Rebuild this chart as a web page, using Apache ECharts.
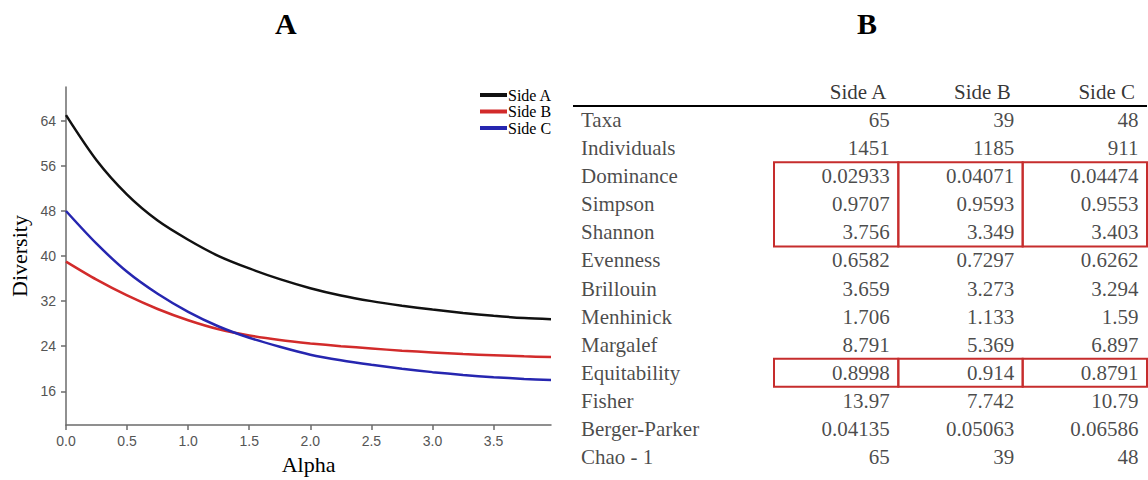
<!DOCTYPE html>
<html>
<head>
<meta charset="utf-8">
<script src="https://cdn.jsdelivr.net/npm/echarts@6/dist/echarts.min.js"></script>
<style>html,body{margin:0;padding:0;background:#fff;}#c{width:1148px;height:480px;}</style>
</head>
<body>
<div id="c"></div>
<script>
// ---- Panel A: diversity profile ----
const alpha = [0, 0.25, 0.5, 0.75, 1, 1.25, 1.5, 1.75, 2, 2.25, 2.5, 2.75, 3, 3.25, 3.5, 3.75, 3.97];
const sideA = [65, 57.0, 50.9, 46.3, 42.9, 40.0, 37.8, 35.9, 34.3, 33.0, 32.0, 31.2, 30.5, 29.9, 29.4, 29.0, 28.8];
const sideB = [39, 35.8, 33.0, 30.6, 28.6, 27.0, 25.9, 25.1, 24.5, 24.0, 23.6, 23.2, 22.9, 22.6, 22.4, 22.2, 22.1];
const sideC = [48, 42.2, 37.2, 33.3, 30.1, 27.5, 25.5, 23.9, 22.5, 21.5, 20.7, 20.0, 19.4, 18.9, 18.5, 18.2, 18.0];
const yTicks = [16, 24, 32, 40, 48, 56, 64];
const xTicks = [0, 0.5, 1, 1.5, 2, 2.5, 3, 3.5];
const seriesNames = ['Side A', 'Side B', 'Side C'];

// ---- Panel B: table ----
const metrics = ['Taxa', 'Individuals', 'Dominance', 'Simpson', 'Shannon', 'Evenness', 'Brillouin', 'Menhinick', 'Margalef', 'Equitability', 'Fisher', 'Berger-Parker', 'Chao - 1'];
const sides = ['Side A', 'Side B', 'Side C'];
const valA = ['65', '1451', '0.02933', '0.9707', '3.756', '0.6582', '3.659', '1.706', '8.791', '0.8998', '13.97', '0.04135', '65'];
const valB = ['39', '1185', '0.04071', '0.9593', '3.349', '0.7297', '3.273', '1.133', '5.369', '0.914', '7.742', '0.05063', '39'];
const valC = ['48', '911', '0.04474', '0.9553', '3.403', '0.6262', '3.294', '1.59', '6.897', '0.8791', '10.79', '0.06586', '48'];
const boxedRanges = [['Dominance', 'Shannon'], ['Equitability', 'Equitability']];

const SERIF = '"Liberation Serif", "Times New Roman", serif';
const SANS = '"Liberation Sans", Arial, sans-serif';
const colors = ['#111111', '#d22b2b', '#2626b0'];

// table layout
const CHART_W = 1148;
const LABEL_LEFT = 573, VALUE_LEFT = 774, TABLE_RIGHT = 1;
const LABEL_COL_W = VALUE_LEFT - LABEL_LEFT;
const VALUE_COL_W = (CHART_W - VALUE_LEFT - TABLE_RIGHT) / sides.length;

const rowNames = ['header'].concat(metrics);
const columns = [valA, valB, valC];

const headerCells = sides.map((s, ci) => ({ value: [ci, 0], text: s }));
const valueCells = [];
columns.forEach((vals, ci) => vals.forEach((v, ri) => valueCells.push({ value: [ci, ri + 1], text: String(v) })));
const labelCells = metrics.map((m, ri) => ({ value: [0, ri + 1], text: m }));
const boxes = [];
for (let ci = 0; ci < sides.length; ci++) {
  boxedRanges.forEach(r => boxes.push({ col: ci, r0: rowNames.indexOf(r[0]), r1: rowNames.indexOf(r[1]) }));
}

const chart = echarts.init(document.getElementById('c'), null, { renderer: 'svg' });

function ruleRender(params, api) {
  const cs = params.coordSys;
  const y = api.coord([0, 0])[1] + api.size([1, 1])[1] / 2;
  return { type: 'line', shape: { x1: cs.x, y1: y, x2: cs.x + cs.width, y2: y }, style: { stroke: '#000', lineWidth: 2 } };
}

function textSeries(gridIdx, items, align, dx, color) {
  return {
    type: 'scatter', xAxisIndex: gridIdx, yAxisIndex: gridIdx, silent: true,
    symbolSize: 1, itemStyle: { color: 'rgba(255,255,255,0)' }, emphasis: { disabled: true },
    data: items.map(c => c.value),
    label: {
      show: true, position: 'inside', align: align, verticalAlign: 'middle', offset: [dx, 0],
      fontFamily: SERIF, fontSize: 21, color: color,
      formatter: p => items[p.dataIndex].text
    }
  };
}

const option = {
  animation: false,
  backgroundColor: '#fff',
  title: [
    { text: 'A', left: 275, top: 8, padding: 0, textStyle: { fontFamily: SERIF, fontWeight: 'bold', fontSize: 30, color: '#000' } },
    { text: 'B', left: 857, top: 8, padding: 0, textStyle: { fontFamily: SERIF, fontWeight: 'bold', fontSize: 30, color: '#000' } }
  ],
  legend: {
    data: seriesNames,
    orient: 'vertical',
    left: 480,
    top: 87,
    padding: 0,
    itemGap: 0.5,
    itemWidth: 27,
    itemHeight: 4,
    icon: 'rect',
    textStyle: { fontFamily: SERIF, fontSize: 16, lineHeight: 16, color: '#000', padding: [0, 0, 0, -4] }
  },
  grid: [
    { left: 66, top: 87, width: 485, height: 346 },
    { left: LABEL_LEFT, top: 78, width: LABEL_COL_W, bottom: 9 },
    { left: VALUE_LEFT, top: 78, right: TABLE_RIGHT, bottom: 9 }
  ],
  xAxis: [
    {
      type: 'value', gridIndex: 0, min: 0, max: 3.97,
      name: 'Alpha', nameLocation: 'middle', nameGap: 24,
      nameTextStyle: { fontFamily: SERIF, fontSize: 22, color: '#000' },
      axisLine: { show: true, onZero: false, lineStyle: { color: '#6b6b6b', width: 1.5 } },
      axisTick: { show: true, length: 5, customValues: xTicks, lineStyle: { color: '#6b6b6b', width: 1.5 } },
      axisLabel: { customValues: xTicks, margin: 9, color: '#555', fontFamily: SANS, fontSize: 14, formatter: v => v.toFixed(1) },
      splitLine: { show: false }
    },
    { type: 'category', gridIndex: 1, data: ['Metric'], show: false },
    { type: 'category', gridIndex: 2, data: sides, show: false }
  ],
  yAxis: [
    {
      type: 'value', gridIndex: 0, min: 10, max: 70,
      name: 'Diversity', nameLocation: 'middle', nameGap: 36,
      nameTextStyle: { fontFamily: SERIF, fontSize: 22, color: '#000' },
      axisLine: { show: true, lineStyle: { color: '#6b6b6b', width: 1.5 } },
      axisTick: { show: true, length: 5, customValues: yTicks, lineStyle: { color: '#6b6b6b', width: 1.5 } },
      axisLabel: { customValues: yTicks, margin: 10, color: '#555', fontFamily: SANS, fontSize: 14 },
      splitLine: { show: false }
    },
    { type: 'category', gridIndex: 1, data: rowNames, inverse: true, show: false },
    { type: 'category', gridIndex: 2, data: rowNames, inverse: true, show: false }
  ],
  series: [
    { name: 'Side A', type: 'line', xAxisIndex: 0, yAxisIndex: 0, smooth: 0.3, showSymbol: false, color: colors[0], lineStyle: { width: 2.5, color: colors[0] }, data: alpha.map((a, i) => [a, sideA[i]]) },
    { name: 'Side B', type: 'line', xAxisIndex: 0, yAxisIndex: 0, smooth: 0.3, showSymbol: false, color: colors[1], lineStyle: { width: 2.5, color: colors[1] }, data: alpha.map((a, i) => [a, sideB[i]]) },
    { name: 'Side C', type: 'line', xAxisIndex: 0, yAxisIndex: 0, smooth: 0.3, showSymbol: false, color: colors[2], lineStyle: { width: 2.5, color: colors[2] }, data: alpha.map((a, i) => [a, sideC[i]]) },
    // table: rule lines
    { type: 'custom', xAxisIndex: 1, yAxisIndex: 1, silent: true, data: [[0, 0]], renderItem: ruleRender },
    { type: 'custom', xAxisIndex: 2, yAxisIndex: 2, silent: true, data: [[0, 0]], renderItem: ruleRender },
    // table texts
    textSeries(1, labelCells, 'left', -LABEL_COL_W / 2 + 8, '#1a1a1a'),
    textSeries(2, headerCells, 'right', VALUE_COL_W / 2 - 12, '#000'),
    textSeries(2, valueCells, 'right', VALUE_COL_W / 2 - 8.5, '#1a1a1a'),
    // table: red highlight boxes
    {
      type: 'custom', xAxisIndex: 2, yAxisIndex: 2, silent: true,
      data: boxes.map(b => [b.col, b.r0]),
      renderItem: function (params, api) {
        const b = boxes[params.dataIndex];
        const p0 = api.coord([b.col, b.r0]);
        const p1 = api.coord([b.col, b.r1]);
        const s = api.size([1, 1]);
        return { type: 'rect', shape: { x: p0[0] - s[0] / 2, y: p0[1] - s[1] / 2, width: s[0], height: p1[1] - p0[1] + s[1] },
          style: { fill: 'none', stroke: '#c62d2d', lineWidth: 2 } };
      }
    }
  ]
};
chart.setOption(option);
</script>
</body>
</html>
